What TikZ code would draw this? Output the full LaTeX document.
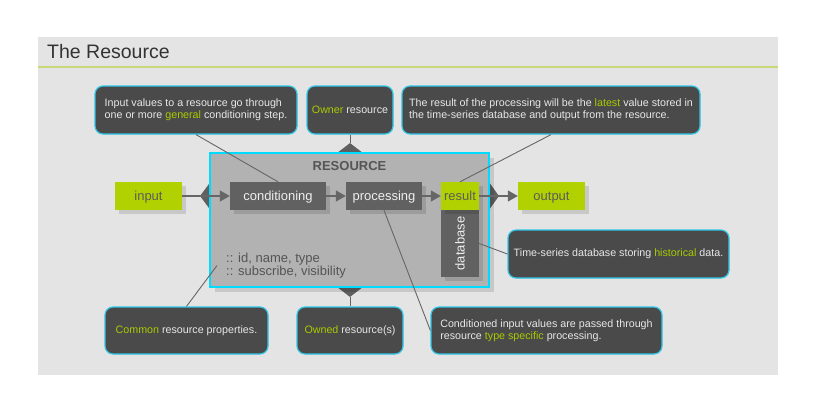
\documentclass[tikz,border=0pt]{standalone}
\usepackage{fontspec}
\setmainfont{Liberation Sans}
\usepackage{graphicx}
\usetikzlibrary{arrows.meta,shapes.geometric,shadows}
\definecolor{panelbg}{HTML}{E4E4E4}
\definecolor{rule}{HTML}{C8DA78}
\definecolor{titletxt}{HTML}{333333}
\definecolor{calfill}{HTML}{4A4A4A}
\definecolor{calborder}{HTML}{2FC6E8}
\definecolor{caltxt}{HTML}{E8E8E8}
\definecolor{hlgreen}{HTML}{A8CC00}
\definecolor{boxgreen}{HTML}{B1D200}
\definecolor{greentxt}{HTML}{5C5C5C}
\definecolor{boxdark}{HTML}{616161}
\definecolor{boxtxt}{HTML}{EEEEEE}
\definecolor{resfill}{HTML}{B2B2B2}
\definecolor{resborder}{HTML}{00DCFF}
\definecolor{restxt}{HTML}{555555}
\definecolor{conn}{HTML}{666666}
\definecolor{diam}{HTML}{5F5F5F}
\newcommand\hlg[1]{\textcolor{hlgreen}{#1}}
\tikzset{
  callout/.style={rectangle, rounded corners=8pt, fill=calfill, draw=calborder,
    line width=1.2pt, text=caltxt, align=left, inner sep=0pt,
    font=\fontsize{10.7}{12.2}\selectfont},
  boxshadow/.style={drop shadow={shadow xshift=4pt, shadow yshift=-4pt, fill=black, opacity=0.12}},
  midtext/.style={text height=10.5pt, text depth=2.5pt},
  greenbox/.style={rectangle, fill=boxgreen, text=greentxt, inner sep=0pt,
    minimum height=28pt, font=\fontsize{13}{15}\selectfont, boxshadow, midtext},
  darkbox/.style={rectangle, fill=boxdark, text=boxtxt, inner sep=0pt,
    minimum height=28pt, font=\fontsize{13}{15}\selectfont, boxshadow},
  diamondmark/.style={diamond, fill=diam, inner sep=0pt},
  flow/.style={draw=conn, line width=1.2pt, -{Triangle[length=10pt,width=11pt]}},
  link/.style={draw=conn, line width=0.9pt},
}
\begin{document}
\begin{tikzpicture}[x=1pt,y=-1pt]
\useasboundingbox (0,0) rectangle (816,413);
\fill[white] (0,0) rectangle (816,413);
% panel
\fill[panelbg] (38,37) rectangle (778,375);
\node[anchor=base west, inner sep=0pt, text=titletxt, font=\fontsize{19.5}{22}\selectfont] (title) at (47,58) {The Resource};
\draw[rule, line width=2.5pt] (38,67) -- (778,67);

% diamonds (behind resource box)
\node[diamondmark, minimum width=26pt, minimum height=20pt] (dtop) at (350,153) {};
\node[diamondmark, minimum width=26pt, minimum height=20pt] (dbot) at (350,287) {};
\node[diamondmark, minimum width=20pt, minimum height=27pt] (dleft) at (210,196) {};
\node[diamondmark, minimum width=20pt, minimum height=28pt] (dright) at (489,196) {};

% callouts
\node[callout, minimum width=202pt, minimum height=48pt] (c1) at (196,110)
  {Input values to a resource go through\\one or more \hlg{general} conditioning step.};
\node[callout, minimum width=86pt, minimum height=48pt] (c2) at (350,110)
  {\hlg{Owner} resource};
\node[callout, minimum width=298pt, minimum height=48pt] (c3) at (551,110)
  {The result of the processing will be the \hlg{latest} value stored in\\the time-series database and output from the resource.};
\node[callout, minimum width=221pt, minimum height=48pt] (c4) at (618.5,254)
  {Time-series database storing \hlg{historical} data.};
\node[callout, minimum width=163pt, minimum height=47pt] (c5) at (186.5,330.5)
  {\hlg{Common} resource properties.};
\node[callout, minimum width=106pt, minimum height=47pt] (c7) at (350,330.5)
  {\hlg{Owned} resource(s)};
\node[callout, minimum width=231pt, minimum height=47pt] (c6) at (546.5,330.5)
  {Conditioned input values are passed through\\resource \hlg{type specific} processing.};

% resource box
\node[rectangle, fill=resfill, draw=resborder, line width=2.5pt,
  minimum width=279pt, minimum height=134pt, inner sep=0pt,
  drop shadow={shadow xshift=5pt, shadow yshift=-5pt, fill=black, opacity=0.12}]
  (res) at (349.5,220) {};
\node[font=\bfseries\fontsize{13}{15}\selectfont, text=restxt, inner sep=0pt] (restitle) at (349.5,166.5) {RESOURCE};
\node[anchor=west, inner xsep=9pt, inner ysep=0pt, align=left, text=restxt,
  font=\fontsize{13}{13.5}\selectfont] (props) at (217,265.5)
  {:: id, name, type\\:: subscribe, visibility};

% boxes
\node[greenbox, minimum width=67pt] (input) at (148.5,196) {input};
\node[darkbox, midtext, minimum width=96pt] (cond) at (278,196) {conditioning};
\node[darkbox, midtext, minimum width=76pt] (proc) at (384,196) {processing};
\node[darkbox, minimum width=38pt, minimum height=67pt] (db) at (460,243.5) {\rotatebox{90}{database}};
\node[greenbox, minimum width=38pt] (result) at (460,196) {result};
\node[greenbox, minimum width=67pt] (output) at (551.5,196) {output};

% flow arrows
\draw[flow] (input.east) -- (cond.west);
\draw[flow] (cond.east) -- (proc.west);
\draw[flow] (proc.east) -- (result.west);
\draw[flow] (result.east) -- (output.west);

% callout links
\draw[link] (c1.south) -- (cond.north);
\draw[link] (c2.south) -- (dtop.north);
\draw[link] (c3.south) -- (result.north);
\draw[link] (proc.south) -- (c6.west);
\draw[link] (db.east) -- (c4.west);
\draw[link] (props.west) -- (c5.north);
\draw[link] (dbot.south) -- (c7.north);
\end{tikzpicture}
\end{document}
